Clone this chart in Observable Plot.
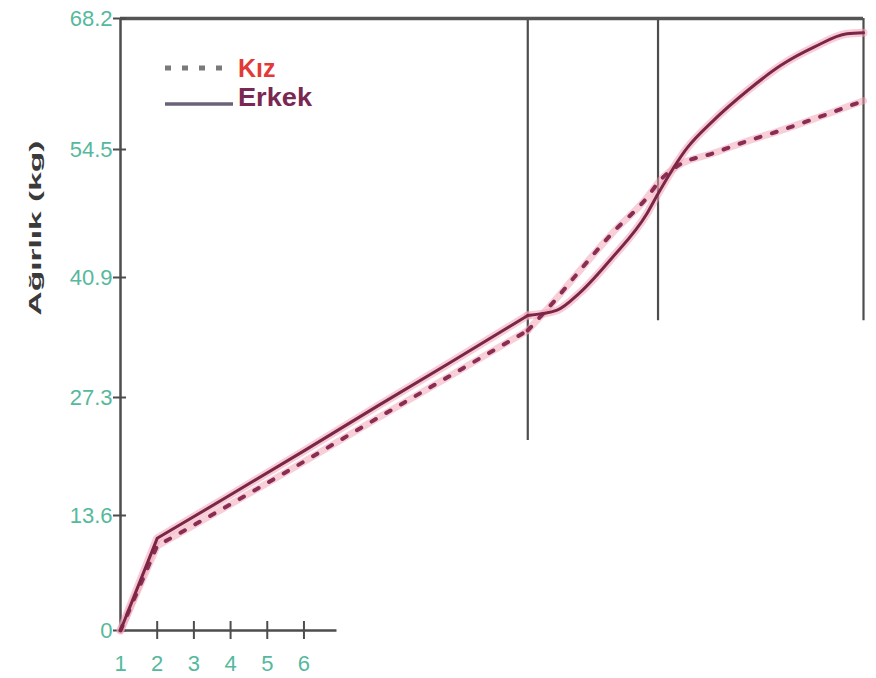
<!DOCTYPE html>
<html>
<head>
<meta charset="utf-8">
<script src="https://cdn.jsdelivr.net/npm/d3@7"></script>
<script src="https://cdn.jsdelivr.net/npm/@observablehq/plot@0.6"></script>
<style>
  body { margin: 0; background: #fff; }
  #wrap { position: relative; width: 876px; height: 678px; overflow: hidden; }
  #legend { position: absolute; left: 0; top: 0; pointer-events: none; }
</style>
</head>
<body>
<div id="wrap"></div>
<script>
// ---- data ----
const xTicks = [1, 2, 3, 4, 5, 6];
const xTickMarks = [2, 3, 4, 5, 6];
const yTicks = [0, 13.6, 27.3, 40.9, 54.5, 68.2];
const xMax = 21.25;          // right end of the drawing (last phase line)
const xAxisEnd = 6.9;        // end of the short drawn x-axis line

const erkekAges    = [1, 2, 4, 6, 8, 10, 12.1, 12.9, 13.5, 14.4, 15.35, 15.65, 16.45, 17.15, 18.1, 19.0, 19.9, 20.8, 21.25];
const erkekWeights = [0, 10.9, 16.0, 21.1, 26.3, 31.3, 36.6, 37.2, 39.1, 43.0, 47.7, 49.8, 54.7, 57.5, 60.7, 63.3, 65.2, 66.6, 66.7];

const kizAges    = [1, 2, 4, 6, 8, 10, 12.1, 12.9, 13.3, 14.4, 15.35, 15.7, 16.2, 17.15, 18.1, 19.0, 19.9, 21.25];
const kizWeights = [0, 10.0, 14.9, 19.85, 24.9, 29.8, 34.9, 38.6, 40.6, 45.6, 49.4, 51.2, 52.8, 54.1, 55.4, 56.5, 57.7, 59.6];

const phaseAges    = [12.1, 15.65, 21.25];
const phaseBottoms = [22.3, 36.0, 36.0];

const seriesNames = ["Kız", "Erkek"];
const yLabel = "Ağırlık (kg)";

// ---- tables ----
const erkek = erkekAges.map((a, i) => ({age: a, weight: erkekWeights[i]}));
const kiz = kizAges.map((a, i) => ({age: a, weight: kizWeights[i]}));
const phases = phaseAges.map((a, i) => ({age: a, bottom: phaseBottoms[i]}));
const yMax = yTicks[yTicks.length - 1];
const split = phaseAges[0];
const early = rows => rows.filter(d => d.age <= split);
const late = rows => rows.filter(d => d.age >= split);

const font = '"Liberation Sans", Arial, sans-serif';
const teal = "#55b99d";
const axisGray = "#4d4d4d";

function seriesMarks(rows, style) {
  return [
    Plot.line(early(rows), {x: "age", y: "weight", ...style}),
    Plot.line(late(rows), {x: "age", y: "weight", curve: "monotone-x", ...style})
  ];
}

const kizHalo = {stroke: "#f2a0b4", strokeWidth: 7, strokeOpacity: 0.5};
const erkekHalo = {stroke: "#f2a0b4", strokeWidth: 8, strokeOpacity: 0.55, strokeLinejoin: "round"};
const kizLine = {stroke: "#8a2d52", strokeWidth: 4, strokeDasharray: "5,12"};
const erkekLine = {stroke: "#7a2646", strokeWidth: 3, strokeLinejoin: "round"};

const svg = Plot.plot({
  width: 876,
  height: 678,
  marginLeft: 120,
  marginRight: 13,
  marginTop: 18,
  marginBottom: 48,
  style: {fontFamily: font, background: "white", overflow: "visible"},
  x: {type: "linear", domain: [xTicks[0], xMax], range: [120, 863], label: null},
  y: {type: "linear", domain: yTicks, range: [630, 515, 397, 277, 149, 18], label: null},
  marks: [
    // phase lines
    Plot.ruleX(phases, {x: "age", y1: "bottom", y2: yMax, stroke: axisGray, strokeWidth: 2.2}),
    // top line
    Plot.ruleY([yMax], {x1: xTicks[0], x2: xMax, stroke: "#555", strokeWidth: 3.5}),
    // left axis line
    Plot.ruleX([xTicks[0]], {y1: yTicks[0], y2: yMax, stroke: axisGray, strokeWidth: 2.5}),
    // bottom axis line
    Plot.ruleY([yTicks[0]], {x1: xTicks[0], x2: xAxisEnd, stroke: axisGray, strokeWidth: 2.5}),
    // y axis
    Plot.axisY({ticks: yTicks, tickSize: 13, dx: 6, tickPadding: 1, fontSize: 22, label: null,
      stroke: axisGray, fill: teal, strokeWidth: 2, tickFormat: d => String(d)}),
    // x axis labels
    Plot.axisX({ticks: xTicks, tickSize: 0, tickPadding: 25, fontSize: 22, fill: teal, stroke: "none",
      label: null, tickFormat: d => String(d)}),
    // x axis tick marks
    Plot.axisX({ticks: xTickMarks, tickSize: 18, dy: -9, stroke: axisGray, strokeWidth: 2,
      label: null, tickFormat: () => ""}),
    // halos
    ...seriesMarks(kiz, kizHalo),
    ...seriesMarks(erkek, erkekHalo),
    // series
    ...seriesMarks(kiz, kizLine),
    ...seriesMarks(erkek, erkekLine),
    // y label
    Plot.text([yLabel], {frameAnchor: "left", dx: -85, dy: -9, rotate: -90, fontSize: 17,
      fontWeight: "bold", fill: "#3a3a3a"})
  ]
});

d3.select(svg).selectAll("text")
  .filter(function () { return this.textContent === yLabel; })
  .attr("textLength", 175)
  .attr("lengthAdjust", "spacingAndGlyphs");

const wrap = document.getElementById("wrap");
wrap.appendChild(svg);

// legend overlay
const leg = d3.select(wrap).append("svg")
  .attr("id", "legend").attr("width", 876).attr("height", 678)
  .style("font-family", font).style("font-weight", "bold").style("font-size", "25px");
leg.append("line").attr("x1", 165).attr("x2", 233).attr("y1", 68).attr("y2", 68)
  .attr("stroke", "#7a7a7a").attr("stroke-width", 5).attr("stroke-dasharray", "6,11");
leg.append("text").attr("x", 238).attr("y", 77).attr("fill", "#e23a36").text(seriesNames[0]);
leg.append("line").attr("x1", 165).attr("x2", 233).attr("y1", 104).attr("y2", 104)
  .attr("stroke", "#6b6278").attr("stroke-width", 3.5);
leg.append("text").attr("x", 238).attr("y", 106).attr("fill", "#7a2752")
  .attr("textLength", 74).attr("lengthAdjust", "spacingAndGlyphs").text(seriesNames[1]);
</script>
</body>
</html>
